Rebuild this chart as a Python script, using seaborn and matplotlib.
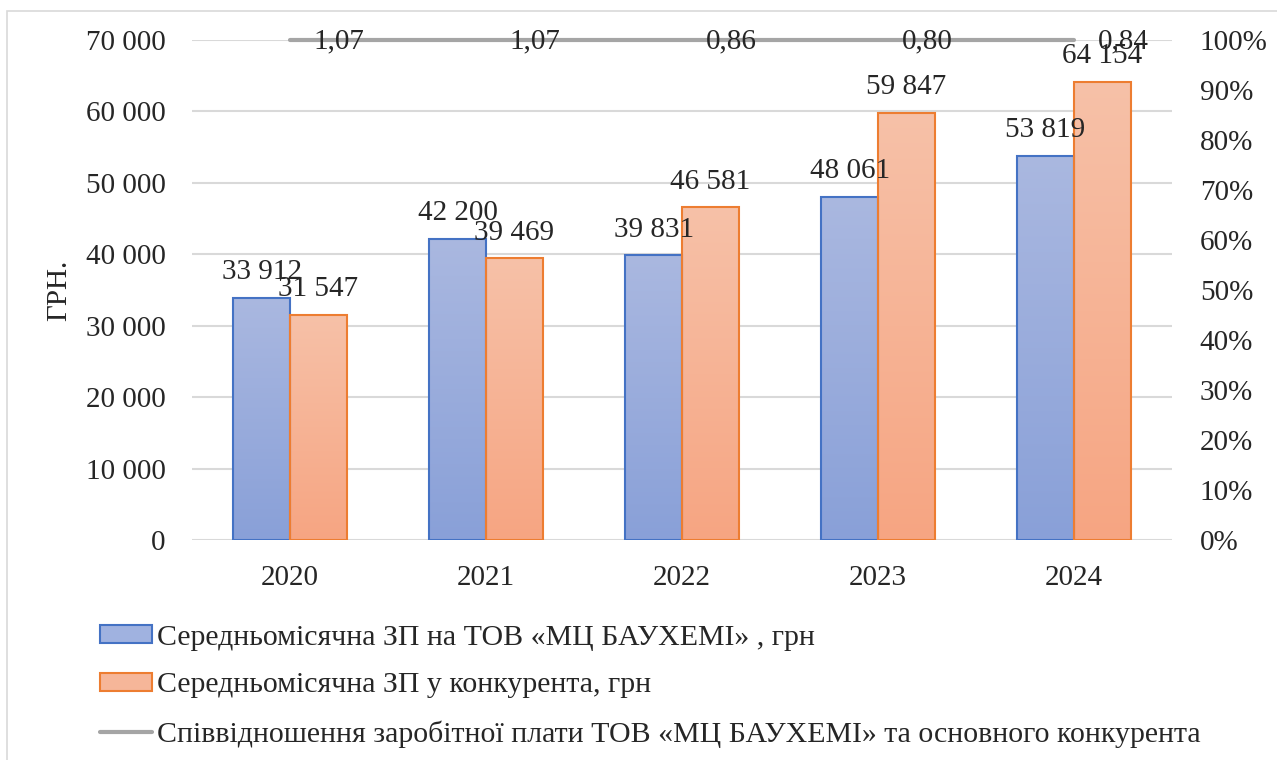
import numpy as np
import pandas as pd
import matplotlib
matplotlib.use('Agg')
import matplotlib.pyplot as plt
import seaborn as sns
from matplotlib.patches import Patch, Rectangle
from matplotlib.lines import Line2D
from matplotlib.colors import LinearSegmentedColormap

# ---- data ----
years = ['2020', '2021', '2022', '2023', '2024']
company = [33912, 42200, 39831, 48061, 53819]
competitor = [31547, 39469, 46581, 59847, 64154]
ratio = [1.07, 1.07, 0.86, 0.80, 0.84]
series_names = ['Середньомісячна ЗП на ТОВ «МЦ БАУХЕМІ» , грн',
                'Середньомісячна ЗП у конкурента, грн',
                'Співвідношення заробітної плати ТОВ «МЦ БАУХЕМІ» та основного конкурента']
left_ticks = list(range(0, 70001, 10000))
right_ticks = [i / 10 for i in range(11)]
y_label = 'ГРН.'

# ---- style ----
sns.set_theme(style='white')
plt.rcParams['font.family'] = ['Liberation Serif', 'DejaVu Serif']

blue_edge, orange_edge, gray = '#4472c4', '#ed7d31', '#a5a5a5'
blue_top, blue_bot = '#aab8e0', '#89a0d8'
orange_top, orange_bot = '#f7c1a8', '#f6a582'
FS = 21

fig = plt.figure(figsize=(12.77, 7.6), dpi=100)
ax = fig.add_axes([192 / 1277, 1 - 540 / 760, 980 / 1277, 500 / 760])

df = pd.DataFrame({'year': years * 2,
                   'value': company + competitor,
                   'series': [series_names[0]] * 5 + [series_names[1]] * 5})
sns.barplot(data=df, x='year', y='value', hue='series',
            palette=[blue_edge, orange_edge], width=0.58, gap=0,
            saturation=1, ax=ax, legend=False)

grad = np.linspace(0, 1, 256).reshape(-1, 1)
fills = [(blue_edge, blue_bot, blue_top), (orange_edge, orange_bot, orange_top)]
for cont, (ec, cb, ct) in zip(ax.containers, fills):
    cmap = LinearSegmentedColormap.from_list('g', [cb, ct])
    for bar in cont:
        x0, y0 = bar.get_x(), bar.get_y()
        w, h = bar.get_width(), bar.get_height()
        bar.set_facecolor('none')
        bar.set_edgecolor(ec)
        bar.set_linewidth(1.5)
        bar.set_zorder(3)
        im = ax.imshow(grad, extent=[x0, x0 + w, y0, y0 + h], origin='lower',
                       aspect='auto', cmap=cmap, zorder=2)
        im.set_clip_path(bar)
    ax.bar_label(cont, labels=[f"{int(v):,}".replace(',', ' ') for v in cont.datavalues],
                 padding=9, fontsize=FS, zorder=5)

ax.set_xlim(-0.5, 4.5)
ax.set_ylim(0, 70000)
ax.set_yticks(left_ticks)
ax.set_yticklabels([f"{t:,}".replace(',', ' ') for t in left_ticks])
ax.grid(axis='y', color='#d9d9d9', linewidth=1.5, zorder=0)
ax.set_axisbelow(True)
for s in ax.spines.values():
    s.set_visible(False)
ax.tick_params(axis='y', length=0, pad=19, labelsize=FS)
ax.tick_params(axis='x', length=0, pad=18, labelsize=FS)
ax.set_xlabel('')
ax.set_ylabel(y_label, fontsize=FS)
ax.yaxis.set_label_coords(-0.122, 0.5)

# ratio series: the secondary axis spans 0–100 %, the ratio (in %, i.e. 107, 86 ...)
# lies above its top, so it is drawn pinned at the axis edge as in the original
ax2 = ax.twinx()
line_x = np.arange(len(years))
line_y = np.clip(np.array(ratio) * 100, 0, 1)
sns.lineplot(x=line_x, y=line_y, ax=ax2, color=gray, linewidth=3, clip_on=False)
ax2.set_ylim(0, 1)
ax2.set_yticks(right_ticks)
ax2.set_yticklabels([f"{int(round(t * 100))}%" for t in right_ticks])
ax2.tick_params(axis='y', length=0, pad=20, labelsize=FS)
ax2.grid(False)
for s in ax2.spines.values():
    s.set_visible(False)
for xi, yi, r in zip(line_x, line_y, ratio):
    ax2.annotate(f"{r:.2f}".replace('.', ','), (xi, yi), xytext=(17, -1),
                 textcoords='offset points', ha='left', va='center', fontsize=FS)

handles = [Patch(facecolor='#a0b2e0', edgecolor=blue_edge, linewidth=1.5),
           Patch(facecolor='#f6b699', edgecolor=orange_edge, linewidth=1.5),
           Line2D([0], [0], color=gray, linewidth=3)]
fig.legend(handles, series_names, loc='upper left',
           bbox_to_anchor=(100 / 1277, 1 - 625 / 760), frameon=False,
           fontsize=21.5, handlelength=1.74, handleheight=0.55, handletextpad=0.17,
           labelspacing=0.72, borderpad=0, borderaxespad=0)

fig.patches.append(Rectangle((7 / 1277, -0.05), 1.2, 1 - 11 / 760 + 0.05,
                             transform=fig.transFigure, fill=False,
                             edgecolor='#d9d9d9', linewidth=1.2))

fig.savefig('out.png', dpi=100)
